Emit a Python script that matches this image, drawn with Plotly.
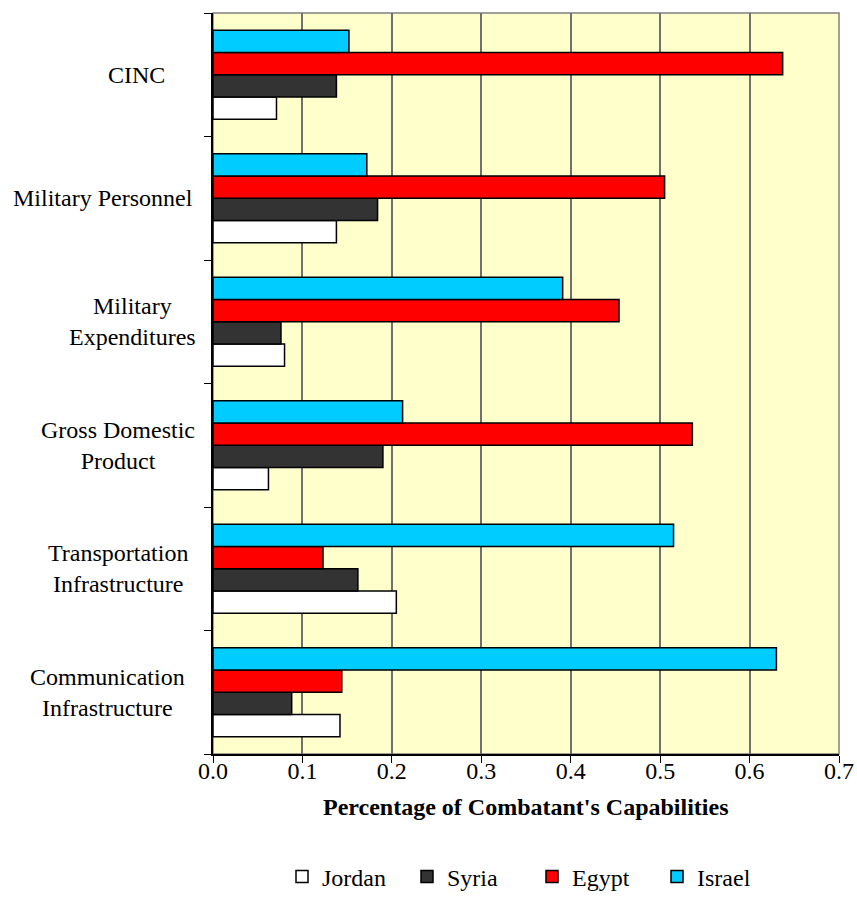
import plotly.graph_objects as go

# Capability measures, listed bottom-to-top as they appear on the axis
categories = [
    "Communication Infrastructure",
    "Transportation Infrastructure",
    "Gross Domestic Product",
    "Military Expenditures",
    "Military Personnel",
    "CINC",
]
category_labels = [
    "Communication<br>Infrastructure",
    "Transportation<br>Infrastructure",
    "Gross Domestic<br>Product",
    "Military<br>Expenditures",
    "Military Personnel",
    "CINC",
]

jordan = [0.142, 0.205, 0.062, 0.080, 0.138, 0.071]
syria = [0.088, 0.162, 0.190, 0.076, 0.184, 0.138]
egypt = [0.144, 0.123, 0.536, 0.454, 0.505, 0.637]
israel = [0.630, 0.515, 0.212, 0.391, 0.172, 0.152]

series = [
    ("Jordan", jordan, "#FFFFFF"),
    ("Syria", syria, "#333333"),
    ("Egypt", egypt, "#FF0000"),
    ("Israel", israel, "#00CCFF"),
]

x_ticks = [0.0, 0.1, 0.2, 0.3, 0.4, 0.5, 0.6, 0.7]
x_title = "Percentage of Combatant's Capabilities"

FONT = "Liberation Serif, Times New Roman, serif"
W, H = 857, 907
ML, MR, MT, MB = 213, 18, 13, 153
plot_w = W - ML - MR
plot_h = H - MT - MB
plot_bottom = MT + plot_h

fig = go.Figure()
for name, vals, color in series:
    fig.add_trace(go.Bar(
        y=categories, x=vals, name=name, orientation="h",
        marker=dict(color=color, line=dict(color="#000000", width=1.5)),
    ))

# Category labels, each centred on its own horizontal position
label_centers_px = [108, 118, 118, 132, 103, 136]
for cat, lab, cx in zip(categories, category_labels, label_centers_px):
    fig.add_annotation(
        x=(cx - ML) / plot_w, xref="paper", y=cat, yref="y",
        text=lab, showarrow=False, xanchor="center", yanchor="middle",
        align="center", font=dict(family=FONT, size=24, color="#000000"),
    )

# Axis title below the tick labels
fig.add_annotation(
    x=0.5, xref="paper",
    y=-(807 - plot_bottom) / plot_h, yref="paper",
    text="<b>" + x_title + "</b>", showarrow=False,
    xanchor="center", yanchor="middle",
    font=dict(family=FONT, size=24, color="#000000"),
)

# Plot-area border
fig.add_shape(type="rect", xref="paper", yref="paper", x0=0, x1=1, y0=0, y1=1,
              line=dict(color="#808080", width=1.5), layer="below")

fig.update_layout(
    width=W, height=H,
    margin=dict(l=ML, r=MR, t=MT, b=MB, autoexpand=False),
    paper_bgcolor="#FFFFFF",
    plot_bgcolor="#FFFFCC",
    barmode="group", bargap=0.28, bargroupgap=0,
    font=dict(family=FONT, size=24, color="#000000"),
    showlegend=True,
    legend=dict(
        orientation="h", x=(532 - ML) / plot_w, xanchor="center",
        y=-(877 - plot_bottom) / plot_h, yanchor="middle",
        font=dict(family=FONT, size=24), traceorder="normal",
        itemwidth=30, entrywidth=80, entrywidthmode="pixels",
    ),
    xaxis=dict(
        range=[0, 0.7], tickvals=x_ticks, tickformat=".1f",
        showgrid=True, gridcolor="#707070", gridwidth=1.5,
        zeroline=False, showline=True, linecolor="#000000", linewidth=1.5,
        ticks="outside", ticklen=7, tickcolor="#000000",
        tickfont=dict(family=FONT, size=24), automargin=False,
        ticklabelstandoff=-13,
    ),
    yaxis=dict(
        type="category", categoryorder="array", categoryarray=categories,
        showticklabels=False, showgrid=False, zeroline=False,
        showline=True, linecolor="#000000", linewidth=1.5,
        ticks="outside", ticklen=7, tickcolor="#000000", tickson="boundaries",
        automargin=False,
    ),
)

fig.write_html("out.html")
